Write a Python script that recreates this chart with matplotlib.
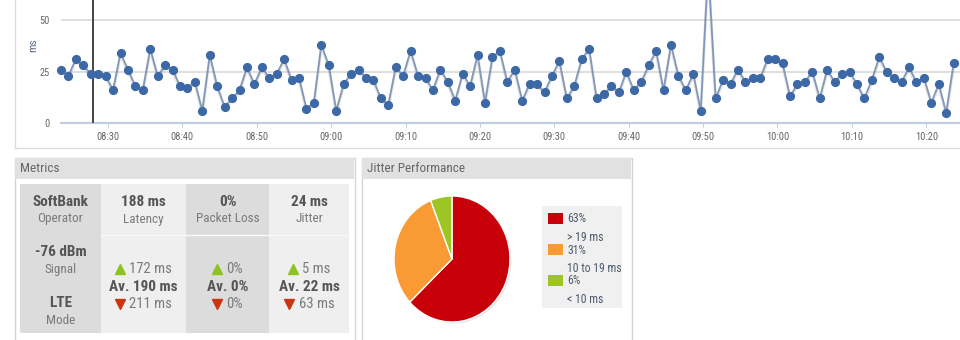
import matplotlib
matplotlib.use("Agg")
import matplotlib.pyplot as plt
import matplotlib.dates as mdates
from matplotlib.patches import Rectangle, Ellipse
import pandas as pd

# ---- data -------------------------------------------------------------
jitter_ms = [26, 23, 31, 28, 24, 24, 23, 16, 34, 26,
             18, 16, 36, 23, 28, 26, 18, 17, 20, 6,
             33, 18, 8, 12, 16, 27, 19, 27, 22, 24,
             31, 21, 22, 7, 10, 38, 28, 6, 19, 24,
             26, 22, 21, 12, 9, 27, 23, 35, 23, 22,
             16, 26, 20, 11, 24, 18, 33, 10, 32, 35,
             20, 26, 11, 19, 19, 15, 23, 30, 12, 18,
             31, 36, 12, 14, 18, 15, 25, 16, 20, 28,
             35, 16, 38, 23, 16, 24, 6, 76, 12, 21,
             19, 26, 20, 22, 22, 31, 31, 29, 13, 19,
             20, 25, 12, 26, 20, 24, 25, 19, 12, 21,
             32, 25, 22, 20, 27, 20, 22, 10, 19, 5,
             29]
first_sample = "2016-05-12 08:23:41"
marker_time = "2016-05-12 08:28:00"
view_start = "2016-05-12 08:23:41"
view_end = "2016-05-12 10:24:32"
y_ticks = [0, 25, 50]

device_values = ["SoftBank", "-76 dBm", "LTE"]
device_names = ["Operator", "Signal", "Mode"]
metric_values = ["188 ms", "0%", "24 ms"]
metric_names = ["Latency", "Packet Loss", "Jitter"]
metric_best = ["172 ms", "0%", "5 ms"]
metric_avg = ["Av. 190 ms", "Av. 0%", "Av. 22 ms"]
metric_worst = ["211 ms", "0%", "63 ms"]

jitter_share = [63, 31, 6]
jitter_bands = ["> 19 ms", "10 to 19 ms", "< 10 ms"]
share_colors = ["#c8000a", "#f99a34", "#9dc625"]

# ---- figure ----------------------------------------------------------
plt.rcParams["font.family"] = ["Roboto Condensed", "Liberation Sans", "DejaVu Sans"]

W, H = 960, 340
fig = plt.figure(figsize=(9.6, 3.4), dpi=100)
fig.patch.set_facecolor("white")

bg = fig.add_axes([0, 0, 1, 1], zorder=0)
bg.set_xlim(0, W)
bg.set_ylim(H, 0)
bg.axis("off")


def box(ax_px):
    x0, y0, x1, y1 = ax_px
    return [x0 / W, 1 - y1 / H, (x1 - x0) / W, (y1 - y0) / H]


# chart panel frame
bg.plot([14.5, 14.5], [0, 148], color="#dcdcdc", lw=1)
bg.plot([14.5, W], [148, 148], color="#dcdcdc", lw=1)
bg.text(33, 45, "ms", rotation=90, ha="center", va="center",
        fontsize=8, color="#5a6b85")

# ---- time series -----------------------------------------------------
times = pd.date_range(first_sample, periods=len(jitter_ms), freq="1min").to_pydatetime()
ax = fig.add_axes(box((61, 0, W, 123.3)), zorder=2)
ax.patch.set_alpha(0)
for s in ax.spines.values():
    s.set_visible(False)
ax.set_xlim(pd.Timestamp(view_start).to_pydatetime(), pd.Timestamp(view_end).to_pydatetime())
ax.set_ylim(0, 59.65)
for v in y_ticks[1:]:
    ax.axhline(v, color="#d9d9d9", lw=1.2, zorder=1)
ax.axhline(0, color="#c0cee0", lw=1.6, zorder=1, clip_on=False)
ax.axvline(pd.Timestamp(marker_time).to_pydatetime(), color="#444444", lw=1.4, zorder=2)

# soft shadow under the line
ax.plot(times, [v - 0.9 for v in jitter_ms], color="#000000", alpha=0.10, lw=2.2,
        zorder=2, clip_on=False)
ax.plot(times, jitter_ms, color="#8398b8", lw=1.3, zorder=3, clip_on=False)
ax.plot(times, jitter_ms, ls="none", marker="o", ms=5.6, mfc="#3c69a6",
        mec="#3c69a6", zorder=4, clip_on=False)

ax.xaxis.set_major_locator(mdates.MinuteLocator(byminute=[0, 10, 20, 30, 40, 50]))
ax.xaxis.set_major_formatter(mdates.DateFormatter("%H:%M"))
ax.tick_params(axis="x", length=3, color="#c0cee0", labelsize=7.5, labelcolor="#666666", pad=3)
ax.set_yticks(y_ticks)
ax.tick_params(axis="y", length=0, labelsize=7.5, labelcolor="#666666", pad=8)

# ---- metrics panel ---------------------------------------------------
bg.add_patch(Rectangle((14.5, 157.5), 340, 200, fc="white", ec="#d4d4d4", lw=1))
bg.add_patch(Rectangle((15, 158), 339, 21, fc="#e1e1e1", ec="none"))
bg.text(20, 168.5, "Metrics", fontsize=9.5, color="#666666", va="center", ha="left")

col_edges = [20, 101, 185.7, 269.3, 349]
col_fill = ["#dcdcdc", "#efefef", "#dcdcdc", "#efefef"]
top, bottom, divider = 184.3, 333.3, 235
for i, c in enumerate(col_fill):
    bg.add_patch(Rectangle((col_edges[i], top), col_edges[i + 1] - col_edges[i],
                           bottom - top, fc=c, ec="none"))
bg.plot([col_edges[1], col_edges[-1]], [divider, divider], color="#f9f9f9", lw=1)

VAL_C, LAB_C = "#555555", "#7a7a7a"
cx0 = (col_edges[0] + col_edges[1]) / 2
for val, name, y in zip(device_values, device_names, [201.7, 252, 303.3]):
    bg.text(cx0, y, val, ha="center", va="center", fontsize=11,
            fontweight="bold", color=VAL_C)
    bg.text(cx0, y + 17, name, ha="center", va="center", fontsize=9.5, color=LAB_C)

fig.canvas.draw()
renderer = fig.canvas.get_renderer()

for i in range(3):
    cx = (col_edges[i + 1] + col_edges[i + 2]) / 2
    bg.text(cx, 201.7, metric_values[i], ha="center", va="center", fontsize=11,
            fontweight="bold", color=VAL_C)
    bg.text(cx, 219, metric_names[i], ha="center", va="center", fontsize=9.5, color=LAB_C)
    bg.text(cx, 286.7, metric_avg[i], ha="center", va="center", fontsize=11,
            fontweight="bold", color=VAL_C)
    for label, y, mk, mc in [(metric_best[i], 269, "^", "#8dc21f"),
                             (metric_worst[i], 304, "v", "#cc3311")]:
        t = bg.text(0, y, label, ha="left", va="center", fontsize=10.5, color=LAB_C)
        bb = t.get_window_extent(renderer)
        tw = bb.width * W / fig.bbox.width
        tri_w, gap = 10, 4.5
        left = cx - (tri_w + gap + tw) / 2
        t.set_x(left + tri_w + gap)
        bg.plot(left + tri_w / 2, y, marker=mk, ms=7.5, color=mc, mec=mc, ls="none")

# ---- jitter performance panel ----------------------------------------
bg.add_patch(Rectangle((361.5, 157.5), 270, 200, fc="white", ec="#d4d4d4", lw=1))
bg.add_patch(Rectangle((362, 158), 269, 21, fc="#e1e1e1", ec="none"))
bg.text(367, 168.5, "Jitter Performance", fontsize=9.5, color="#666666",
        va="center", ha="left")

bg.add_patch(Ellipse((453.5, 260.5), 116, 126, fc="#000000", alpha=0.10, ec="none"))
pax = fig.add_axes(box((394, 196, 510, 322)), zorder=2)
pax.pie(jitter_share, colors=share_colors, startangle=90, counterclock=False,
        wedgeprops=dict(edgecolor="white", linewidth=1))
pax.set_aspect("auto")
pax.set_xlim(-1, 1)
pax.set_ylim(-1, 1)
pax.axis("off")

bg.add_patch(Rectangle((541.7, 206), 80, 102, fc="#f0f0f0", ec="none"))
LEG_C = "#4c5a6c"
for k, (share, band, col) in enumerate(zip(jitter_share, jitter_bands, share_colors)):
    y0 = 213.3 + k * 31
    bg.add_patch(Rectangle((548.3, y0), 14.4, 11, fc=col, ec="none"))
    bg.text(567.3, y0 + 5.7, f"{share}%", fontsize=8.5, color=LEG_C, va="center", ha="left")
    bg.text(567.3, y0 + 24.2, band, fontsize=8.5, color=LEG_C, va="center", ha="left")

fig.savefig("out.png", dpi=100, facecolor="white")
